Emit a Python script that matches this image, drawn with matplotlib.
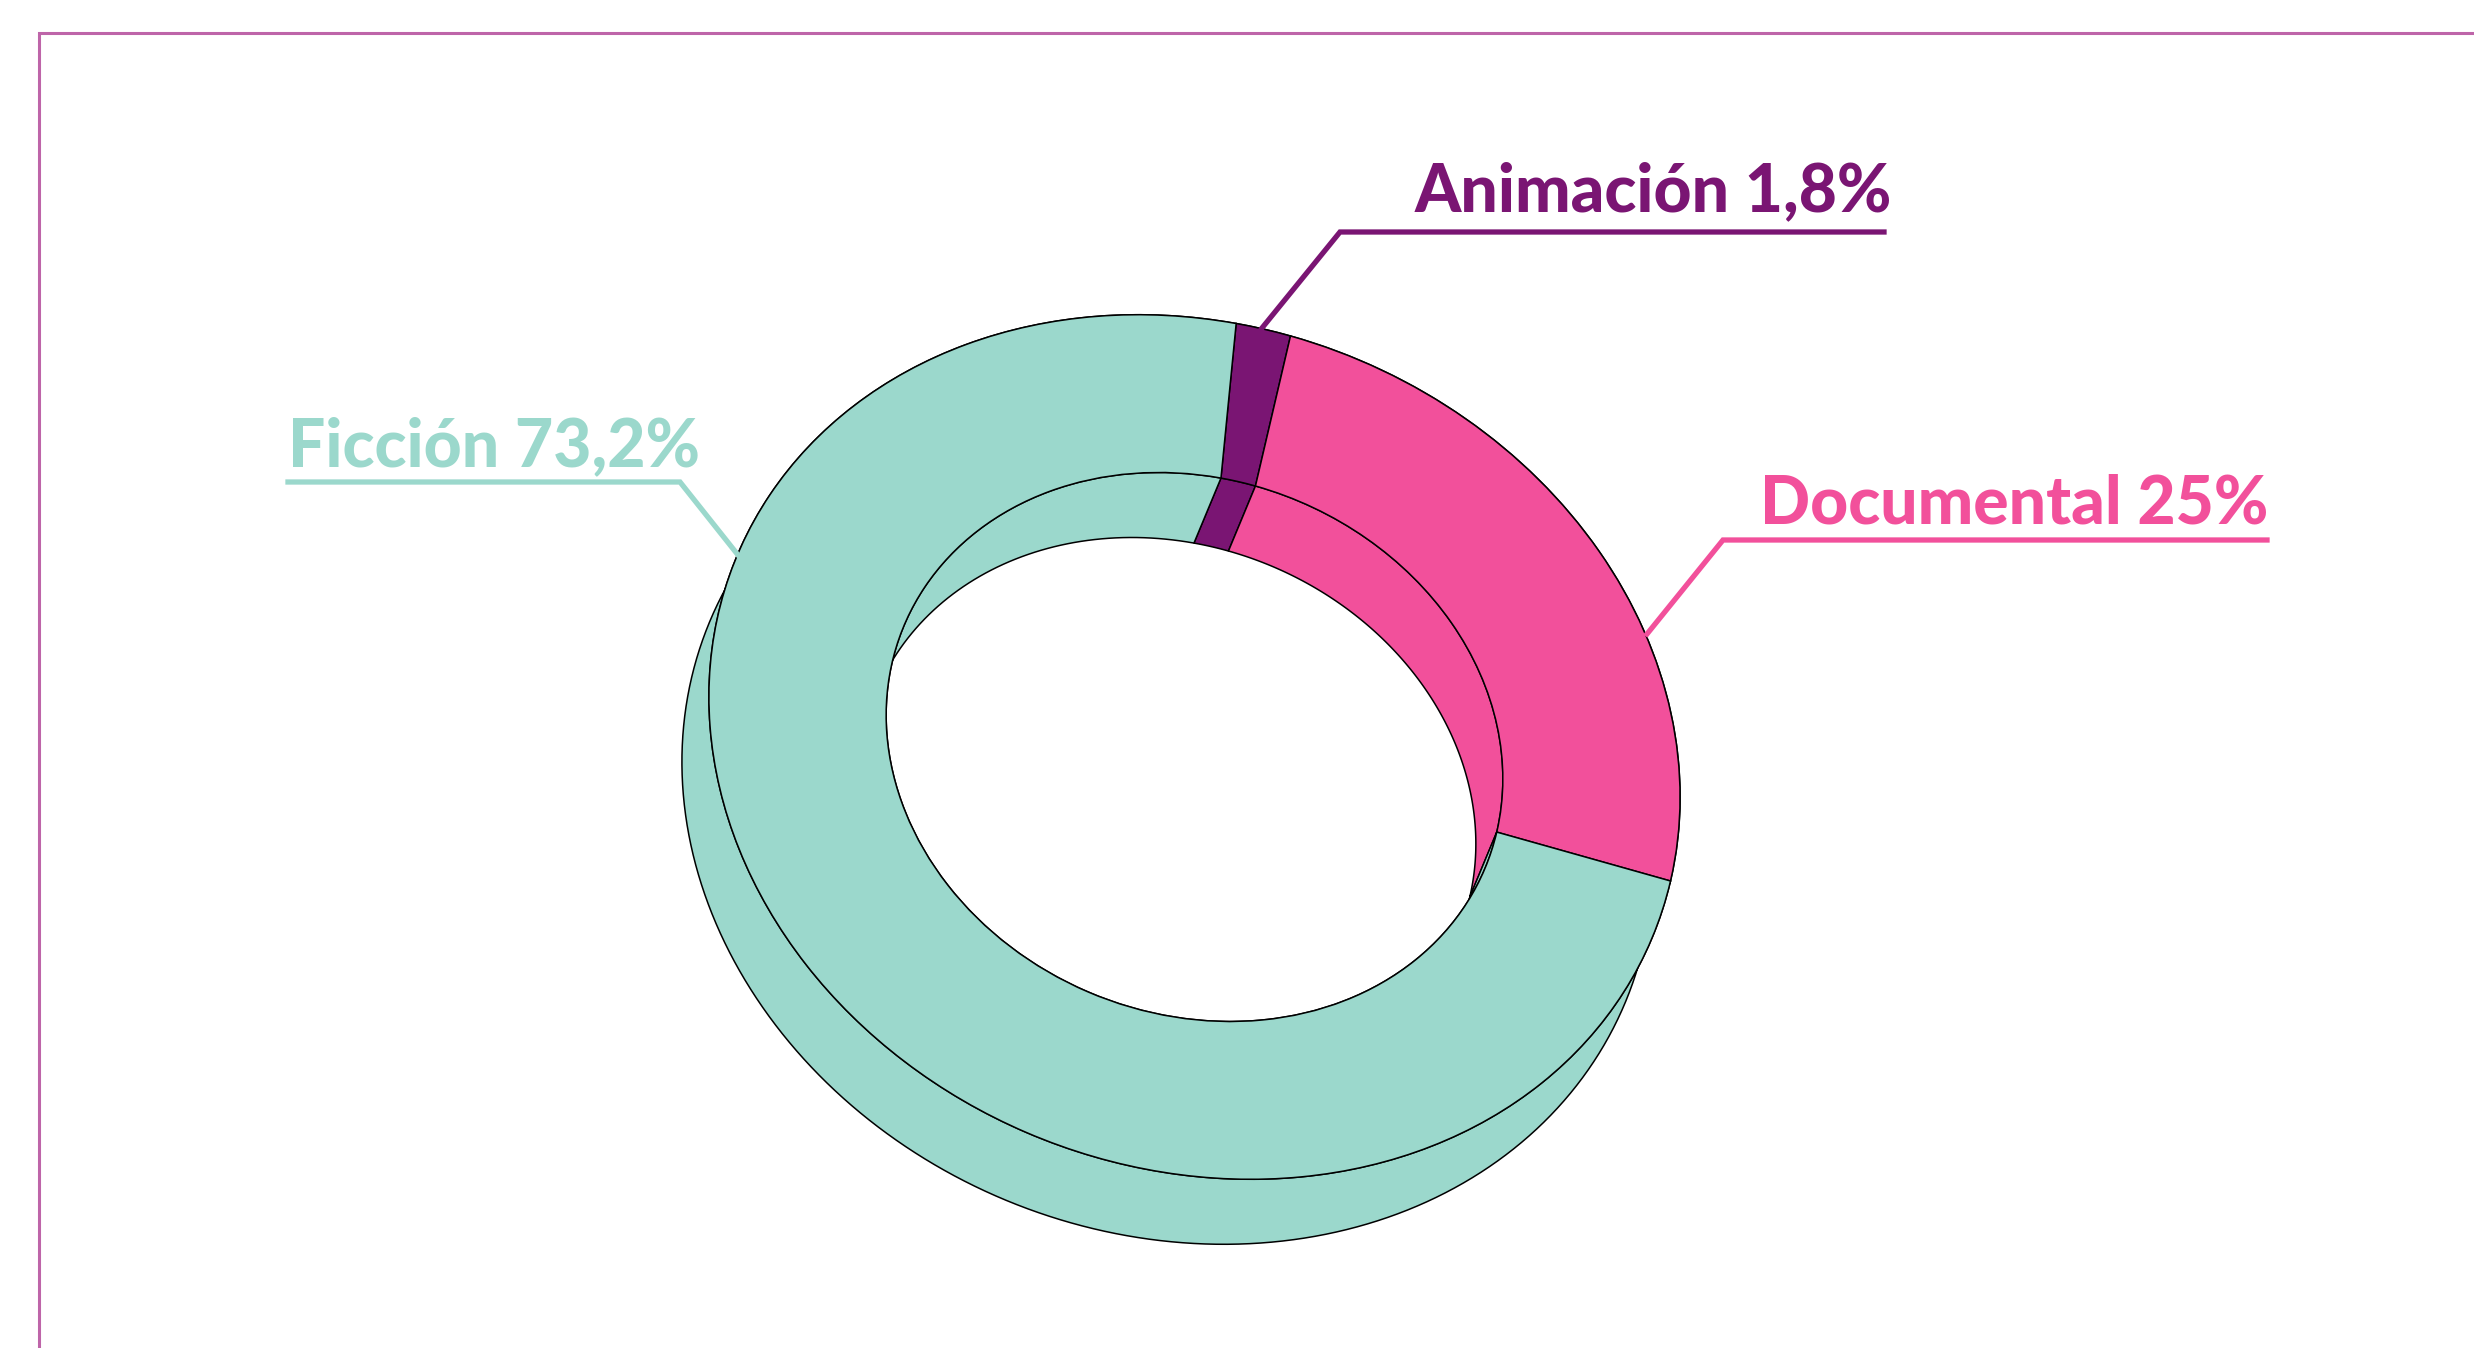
import numpy as np
import matplotlib
matplotlib.use('Agg')
import matplotlib.pyplot as plt
from matplotlib.transforms import Affine2D

# chart data, clockwise from the top of the ring
labels = ['Animación', 'Documental', 'Ficción']
values = [1.8, 25, 73.2]
colors = ['#7A1573', '#F2509B', '#9BD8CC']

# ring geometry, all in pixels of the picture
center = (1194.5, 747)
right_axis = (476, 134)
up_axis = (96, -411)
depth = (-27, 65)
hole = 0.635

plt.rcParams['font.family'] = ['Lato', 'DejaVu Sans']

fig = plt.figure(figsize=(24.74, 13.48), dpi=100)
ax = fig.add_axes([0, 0, 1, 1])

matrix = Affine2D.from_values(right_axis[0], right_axis[1], up_axis[0], up_axis[1], center[0], center[1])


def wall(radius, start, end, color, zorder):
    # side of the ring between the top face and the same arc moved by depth
    t = np.radians(np.linspace(start, end, 200))
    pts = matrix.transform(np.column_stack([radius * np.cos(t), radius * np.sin(t)]))
    back = pts[::-1] + np.array(depth)
    poly = np.vstack([pts, back])
    ax.fill(poly[:, 0], poly[:, 1], facecolor=color, edgecolor='black', linewidth=1.1,
            joinstyle='round', zorder=zorder)


# walls go first, the top face covers whatever should be hidden
start = 90 + values[0] * 3.6
angle = start
for v, c in zip(values, colors):
    wall(1.0, angle, angle - v * 3.6, c, 1)
    angle -= v * 3.6

angle = start
for v, c in zip(values, colors):
    wall(hole, angle, angle - v * 3.6, c, 2)
    angle -= v * 3.6

wedges, _ = ax.pie(values, colors=colors, startangle=start, counterclock=False,
                   wedgeprops=dict(width=1 - hole, edgecolor='black', linewidth=1.1))
for w in wedges:
    w.set_transform(matrix + ax.transData)
    w.set_zorder(3)

# labels and their leader lines
texts = [f"{n} {str(v).replace('.', ',')}%" for n, v in zip(labels, values)]

ax.plot([1262, 1340, 1884], [328, 232, 232], color=colors[0], lw=3.8, solid_joinstyle='miter', zorder=4)
ax.plot([1647, 1723, 2267], [634, 540, 540], color=colors[1], lw=3.8, solid_joinstyle='miter', zorder=4)
ax.plot([738, 680, 288], [555, 482, 482], color=colors[2], lw=3.8, solid_joinstyle='miter', zorder=4)

ax.text(1892, 211, texts[0], color=colors[0], fontsize=47.5, fontweight='black', ha='right', va='baseline')
ax.text(2268, 524, texts[1], color=colors[1], fontsize=47.5, fontweight='black', ha='right', va='baseline')
ax.text(288, 466, texts[2], color=colors[2], fontsize=47.5, fontweight='black', ha='left', va='baseline')

# page frame, open on the right and at the bottom
ax.plot([38.5, 38.5, 2474], [1348, 32.5, 32.5], color='#BE65A9', lw=2.2, solid_joinstyle='miter')

ax.set_aspect('auto')
ax.set_xlim(0, 2474)
ax.set_ylim(1348, 0)
ax.axis('off')

fig.savefig('out.png', dpi=100, facecolor='white')
